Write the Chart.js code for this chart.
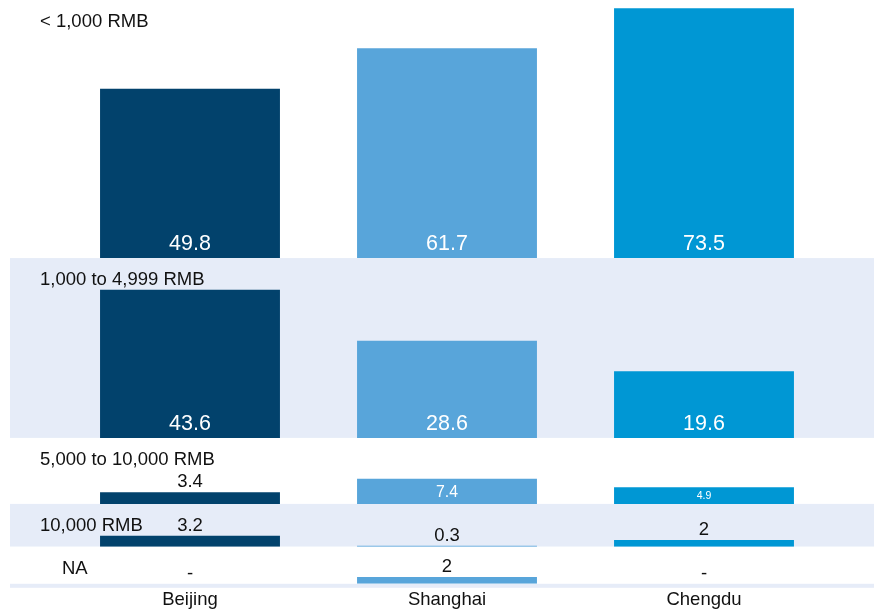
<!DOCTYPE html>
<html lang="en">
<head>
<meta charset="UTF-8">
<meta name="viewport" content="width=device-width, initial-scale=1.0">
<title>Monthly spending by city</title>
<script src="https://cdn.jsdelivr.net/npm/chart.js"></script>
<style>
    html, body { margin: 0; padding: 0; background: #fff; overflow: hidden; }
    /* a little taller than the window so the city labels sit low under the last band */
    .chart-box { position: relative; width: 874px; height: 616px; }
</style>
</head>
<body>
<div class="chart-box"><canvas id="spendChart"></canvas></div>

<script>
    const cities = ['Beijing', 'Shanghai', 'Chengdu'];
    const bands = ['< 1,000 RMB', '1,000 to 4,999 RMB', '5,000 to 10,000 RMB', '10,000 RMB', 'NA'];

    const under1000 = [49.8, 61.7, 73.5];
    const from1000to4999 = [43.6, 28.6, 19.6];
    const from5000to10000 = [3.4, 7.4, 4.9];
    const over10000 = [3.2, 0.3, 2];
    const notAnswered = [null, 2, null];

    const seriesByBand = [under1000, from1000to4999, from5000to10000, over10000, notAnswered];

    // axis top for each band; used as stack weight too so every band has the same px per unit
    const axisMax = [75.9, 52.9, 19.4, 12.6, 10.9];
    const bandLabelX = [40, 40, 40, 40, 62];

    const cityColors = ['#02426c', '#58a5da', '#0097d4'];
    const bandFill = ['#ffffff', '#e6ecf8'];
    const FONT = '"Liberation Sans", Arial, Helvetica, sans-serif';

    const datasets = seriesByBand.map((values, i) => ({
        label: bands[i],
        data: values,
        yAxisID: 'y' + i,
        backgroundColor: cityColors,
        borderWidth: 0,
        grouped: false,
        barPercentage: 0.7,
        categoryPercentage: 1
    }));

    const scales = {
        x: {
            grid: { display: false, drawTicks: false },
            border: { display: false },
            ticks: { color: '#111', padding: 5, font: { family: FONT, size: 18.5 } }
        }
    };
    bands.forEach((_, i) => {
        scales['y' + i] = {
            display: false,
            position: 'left',
            stack: 'bands',
            stackWeight: axisMax[i],
            weight: bands.length - i,
            min: 0,
            max: axisMax[i]
        };
    });

    // band backgrounds, band titles and value labels
    const bandPlugin = {
        id: 'bands',
        beforeDraw(chart) {
            const ctx = chart.ctx;
            ctx.save();
            bands.forEach((_, i) => {
                const s = chart.scales['y' + i];
                ctx.fillStyle = bandFill[i % 2];
                ctx.fillRect(10, s.top, chart.width - 10, s.bottom - s.top);
            });
            ctx.fillStyle = bandFill[1];
            ctx.fillRect(10, chart.chartArea.bottom, chart.width - 10, 4);
            ctx.restore();
        },
        afterDatasetsDraw(chart) {
            const ctx = chart.ctx;
            const xScale = chart.scales.x;
            ctx.save();
            ctx.textBaseline = 'alphabetic';

            ctx.font = '18.5px ' + FONT;
            ctx.fillStyle = '#111';
            ctx.textAlign = 'left';
            bands.forEach((name, i) => {
                ctx.fillText(name, bandLabelX[i], chart.scales['y' + i].top + 27);
            });

            ctx.textAlign = 'center';
            chart.data.datasets.forEach((ds, i) => {
                const yScale = chart.scales['y' + i];
                const base = yScale.getPixelForValue(0);
                ds.data.forEach((v, j) => {
                    const x = xScale.getPixelForValue(j);
                    if (v == null) {
                        ctx.font = '18.5px ' + FONT;
                        ctx.fillStyle = '#111';
                        ctx.fillText('-', x, base - 5);
                        return;
                    }
                    const top = yScale.getPixelForValue(v);
                    const h = base - top;
                    if (h >= 40) {
                        // tall bars: white label near the foot of the bar
                        ctx.font = '21.5px ' + FONT;
                        ctx.fillStyle = '#fff';
                        ctx.fillText(String(v), x, base - 8);
                    } else if (h >= 15) {
                        // short bars: smaller white label centred in the bar
                        const size = Math.max(9, h * 0.63);
                        ctx.font = size + 'px ' + FONT;
                        ctx.fillStyle = '#fff';
                        ctx.fillText(String(v), x, top + h / 2 + size * 0.36);
                    } else {
                        ctx.font = '18.5px ' + FONT;
                        ctx.fillStyle = '#111';
                        ctx.fillText(String(v), x, top - 5);
                    }
                });
            });
            ctx.restore();
        }
    };

    new Chart(document.getElementById('spendChart'), {
        type: 'bar',
        data: { labels: cities, datasets },
        options: {
            responsive: true,
            maintainAspectRatio: false,
            animation: false,
            layout: { padding: { left: 61.5, right: 41.5, top: 0, bottom: 0 } },
            plugins: {
                legend: { display: false },
                tooltip: { enabled: false }
            },
            scales
        },
        plugins: [bandPlugin]
    });
</script>
</body>
</html>
